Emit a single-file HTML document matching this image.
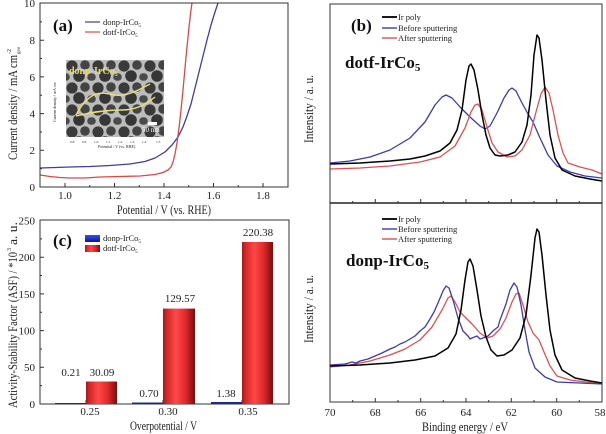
<!DOCTYPE html>
<html><head><meta charset="utf-8"><style>
html,body{margin:0;padding:0;background:#fff;}
svg{display:block;}
text{font-family:"Liberation Serif",serif;fill:#222;}
polyline{stroke-linejoin:round;stroke-linecap:round;}
</style></head><body>
<svg width="606" height="434" viewBox="0 0 606 434" xmlns="http://www.w3.org/2000/svg">
<defs>
<linearGradient id="bar" x1="0" x2="1" y1="0" y2="0">
<stop offset="0" stop-color="#a81818"/>
<stop offset="0.12" stop-color="#d42828"/>
<stop offset="0.4" stop-color="#ff4848"/>
<stop offset="0.7" stop-color="#e02a2a"/>
<stop offset="1" stop-color="#7a0c0c"/>
</linearGradient>
<linearGradient id="bbar" x1="0" x2="0" y1="0" y2="1">
<stop offset="0" stop-color="#3050ff"/><stop offset="1" stop-color="#101880"/>
</linearGradient>
<pattern id="tem" x="66" y="60" width="26" height="22" patternUnits="userSpaceOnUse">
<rect width="26" height="22" fill="#bcbcbc"/>
<circle cx="6" cy="6" r="5.6" fill="#3a3a3a"/>
<circle cx="19" cy="5" r="4.8" fill="#444"/>
<circle cx="13" cy="16" r="5.8" fill="#363636"/>
<circle cx="25" cy="17" r="3.8" fill="#4a4a4a"/>
<circle cx="0" cy="17" r="3.8" fill="#4a4a4a"/>
</pattern>
<clipPath id="ca"><rect x="40" y="3" width="248" height="184"/></clipPath>
<clipPath id="cb1"><rect x="330" y="4" width="272" height="199"/></clipPath>
<clipPath id="cb2"><rect x="330" y="203" width="272" height="199"/></clipPath>
</defs>

<!-- ============ Panel (a) ============ -->
<rect x="66" y="60" width="98" height="77" fill="url(#tem)"/>
<path d="M76,115 C82,104 88,97 96,94 C106,91 114,97 124,95 C134,93 142,88 150,84 M76,116 C92,112 106,110 122,110 C134,110 144,106 155,97" stroke="#e8e070" stroke-width="1.4" fill="none"/>
<text x="69" y="74" font-size="10" font-weight="bold" style="fill:#e6dc60">donp-IrCo<tspan font-size="6" dy="2">5</tspan></text>
<rect x="148" y="122" width="9" height="3" fill="#fff"/>
<text x="142" y="132" font-size="7" style="fill:#fff">50 nm</text>
<g font-size="3.5" style="fill:#777">
<text x="70" y="143">0.8</text><text x="82" y="143">0.9</text><text x="94" y="143">1.0</text><text x="106" y="143">1.1</text><text x="118" y="143">1.2</text><text x="130" y="143">1.3</text><text x="142" y="143">1.4</text><text x="156" y="143">1.5</text>
<text x="98" y="148" font-size="4">Potential / V (vs. RHE)</text>
<text transform="translate(56,122) rotate(-90)" font-size="4">Current density / mA cm</text>
</g>

<g clip-path="url(#ca)" fill="none" stroke-width="1.3">
<polyline stroke="#3c3ca8" points="40,168 55,167.5 70,167 90,166.5 110,165.5 130,164 145,161.5 155,158 165,152 172,145 178,137 183,127 187,116 191,104 195,88 199,72 203,56 207,40 211,25 215,12 218,3 219,0"/>
<polyline stroke="#e04646" points="40,175 50,176.5 60,177.5 70,178 85,178 100,177 120,176.5 140,176 155,174.5 163,172.5 168,170 171,167 173,162 175,154 177,143 179,128 181,110 183,90 185,68 187,47 189,27 191,10 192,3 192.5,0"/>
</g>
<rect x="40" y="3" width="248" height="184" fill="none" stroke="#333" stroke-width="1"/>
<g stroke="#333" stroke-width="1">
<path d="M65,187v-4M114.5,187v-4M164,187v-4M213.5,187v-4M263,187v-4M89.75,187v-2M139.25,187v-2M188.75,187v-2M238.25,187v-2"/>
<path d="M40,150.3h4M40,113.6h4M40,76.9h4M40,40.2h4M40,168.65h2M40,131.95h2M40,95.25h2M40,58.55h2M40,21.85h2"/>
</g>
<g font-size="11" text-anchor="end">
<text x="35" y="191">0</text><text x="35" y="154">2</text><text x="35" y="117.5">4</text><text x="35" y="81">6</text><text x="35" y="44">8</text><text x="35" y="7">10</text>
</g>
<g font-size="11" text-anchor="middle">
<text x="65" y="199">1.0</text><text x="114.5" y="199">1.2</text><text x="164" y="199">1.4</text><text x="213.5" y="199">1.6</text><text x="263" y="199">1.8</text>
</g>
<text x="117" y="214" font-size="12.5" textLength="94" lengthAdjust="spacingAndGlyphs">Potential / V (vs. RHE)</text>
<text transform="translate(17,160) rotate(-90)" font-size="12.5" textLength="105" lengthAdjust="spacingAndGlyphs">Current density / mA cm</text>
<text transform="translate(11,54) rotate(-90)" font-size="6">-2</text>
<text transform="translate(20,54) rotate(-90)" font-size="5">geo</text>
<text x="53" y="31" font-size="17" font-weight="bold" style="fill:#111">(a)</text>
<line x1="85" y1="22" x2="100" y2="22" stroke="#3c3ca8" stroke-width="1.2"/>
<line x1="85" y1="32" x2="100" y2="32" stroke="#e04646" stroke-width="1.2"/>
<text x="103" y="25" font-size="8.5">donp-IrCo<tspan font-size="5" dy="2">5</tspan></text>
<text x="103" y="35" font-size="8.5">dotf-IrCo<tspan font-size="5" dy="2">5</tspan></text>

<!-- ============ Panel (c) ============ -->
<rect x="40" y="220" width="249" height="184" fill="none" stroke="#333" stroke-width="1"/>
<g stroke="#333" stroke-width="1">
<path d="M40,367.3h4M40,330.6h4M40,293.9h4M40,257.2h4M40,385.65h2M40,348.95h2M40,312.25h2M40,275.55h2M40,238.85h2"/>
<path d="M86,404v-4M163,404v-4M242,404v-4"/>
</g>
<rect x="55" y="403" width="31" height="0.8" fill="#1a2890"/>
<rect x="132" y="402.5" width="31" height="1.3" fill="#1a2890"/>
<rect x="211" y="402" width="31" height="1.8" fill="#1a2890"/>
<rect x="86" y="381.5" width="31" height="22.5" fill="url(#bar)"/>
<rect x="163" y="308.6" width="32" height="95.4" fill="url(#bar)"/>
<rect x="242" y="242" width="31" height="162" fill="url(#bar)"/>
<g font-size="11" text-anchor="middle">
<text x="71" y="376">0.21</text><text x="102" y="376">30.09</text>
<text x="149" y="397">0.70</text><text x="180" y="302">129.57</text>
<text x="226" y="397">1.38</text><text x="258" y="236">220.38</text>
</g>
<g font-size="11" text-anchor="end">
<text x="35" y="408">0</text><text x="35" y="371">50</text><text x="35" y="334.5">100</text><text x="35" y="298">150</text><text x="35" y="261">200</text><text x="35" y="224.5">250</text>
</g>
<g font-size="11" text-anchor="middle">
<text x="90" y="415">0.25</text><text x="168" y="415">0.30</text><text x="248" y="415">0.35</text>
</g>
<text x="130" y="430" font-size="12.5" textLength="67" lengthAdjust="spacingAndGlyphs">Overpotential / V</text>
<text transform="translate(17,408) rotate(-90)" font-size="12.5" textLength="156" lengthAdjust="spacingAndGlyphs">Activity-Stability Factor (ASF) / *10</text>
<text transform="translate(11,251) rotate(-90)" font-size="6">3</text>
<text transform="translate(17,245) rotate(-90)" font-size="12.5" textLength="23" lengthAdjust="spacingAndGlyphs">a. u.</text>
<text x="53" y="246" font-size="17" font-weight="bold" style="fill:#111">(c)</text>
<rect x="85" y="235" width="15" height="7" fill="url(#bbar)"/>
<rect x="85" y="245" width="15" height="7" fill="url(#bar)"/>
<text x="103" y="241" font-size="8.5">donp-IrCo<tspan font-size="5" dy="2">5</tspan></text>
<text x="103" y="251" font-size="8.5">dotf-IrCo<tspan font-size="5" dy="2">5</tspan></text>

<!-- ============ Panel (b) top ============ -->
<g clip-path="url(#cb1)" fill="none" stroke-width="1.3">
<polyline stroke="#3c3cb0" points="330,163 350,161 370,157 390,150 410,138 425,122 435,105 442,97 446,95 452,98 460,107 470,117 480,126 485,129 490,126 497,113 504,98 509,90 512,88 516,91 522,103 528,114 533,122 540,138 548,155 557,166 570,172 585,176 602,178"/>
<polyline stroke="#e05050" points="330,169 360,168 390,166 420,162 440,157 455,146 465,128 471,112 475,105 478,104 482,110 487,127 492,143 498,152 507,157 515,156 522,150 530,135 536,112 541,94 545,87 549,93 553,110 558,135 563,153 568,163 580,167 592,170 602,174"/>
<polyline stroke="#000" stroke-width="1.5" points="330,164 360,163 390,161 410,159 425,156 440,151 450,143 457,130 462,110 466,80 469,66 471,64 474,70 478,90 482,115 486,135 490,148 495,155 500,156 508,155 515,152 522,142 527,125 531,95 534,55 537,35 539,38 542,60 546,100 550,135 555,158 562,170 575,176 590,179 602,181"/>
</g>
<!-- ============ Panel (b) bottom ============ -->
<g clip-path="url(#cb2)" fill="none" stroke-width="1.3">
<polyline stroke="#e05050" points="330,367 350,365 370,361 390,355 405,349 420,340 432,327 442,310 448,298 451,296 455,302 460,312 466,318 472,324 480,333 487,338 493,336 500,329 506,318 512,302 516,294 519,293 523,305 528,322 533,333 539,340 544,352 550,366 557,376 570,380 602,384"/>
<polyline stroke="#3c3cb0" points="330,365 345,364 352,362 356,363 360,361 368,359 375,356 382,353 390,349 395,347 400,344 405,342 410,339 415,336 420,331 425,327 430,319 434,312 438,303 443,291 446,286 449,288 453,300 458,318 463,331 468,336 470,339 472,338 477,336 480,339 483,338 488,336 494,330 498,327 500,320 506,304 510,290 514,283 517,287 521,305 525,330 529,352 535,368 545,377 557,382 602,384"/>
<polyline stroke="#000" stroke-width="1.5" points="330,366 360,365 390,363 415,360 435,356 448,348 456,334 461,310 465,280 468,262 470,259 473,266 477,290 481,316 486,337 491,350 497,356 504,355 512,350 520,338 526,315 531,275 535,238 537,229 539,232 542,255 546,295 550,330 555,355 562,370 575,378 590,381 602,383"/>
</g>
<rect x="330" y="4" width="272" height="398" fill="none" stroke="#333" stroke-width="1"/>
<line x1="330" y1="203" x2="602" y2="203" stroke="#222" stroke-width="1.5"/>
<g stroke="#333" stroke-width="1">
<path d="M375.3,203v-4M420.7,203v-4M466,203v-4M511.3,203v-4M556.7,203v-4M352.7,203v-2M398,203v-2M443.3,203v-2M488.7,203v-2M534,203v-2M579.3,203v-2"/>
<path d="M375.3,402v-4M420.7,402v-4M466,402v-4M511.3,402v-4M556.7,402v-4M352.7,402v-2M398,402v-2M443.3,402v-2M488.7,402v-2M534,402v-2M579.3,402v-2"/>
</g>
<g font-size="11" text-anchor="middle">
<text x="330" y="416">70</text><text x="375.3" y="416">68</text><text x="420.7" y="416">66</text><text x="466" y="416">64</text><text x="511.3" y="416">62</text><text x="556.7" y="416">60</text><text x="600" y="416">58</text>
</g>
<text x="422" y="431" font-size="12.5" textLength="86" lengthAdjust="spacingAndGlyphs">Binding energy / eV</text>
<text transform="translate(313,143) rotate(-90)" font-size="12.5" textLength="68" lengthAdjust="spacingAndGlyphs">Intensity / a. u.</text>
<text transform="translate(313,343) rotate(-90)" font-size="12.5" textLength="68" lengthAdjust="spacingAndGlyphs">Intensity / a. u.</text>
<text x="351" y="31" font-size="17" font-weight="bold" style="fill:#111">(b)</text>
<text x="345" y="68" font-size="17" font-weight="bold" style="fill:#111">dotf-IrCo<tspan font-size="11" dy="3">5</tspan></text>
<text x="346" y="266" font-size="17" font-weight="bold" style="fill:#111">donp-IrCo<tspan font-size="11" dy="3">5</tspan></text>
<g stroke-width="1.4">
<line x1="382" y1="17" x2="397" y2="17" stroke="#000" stroke-width="1.8"/>
<line x1="382" y1="28" x2="397" y2="28" stroke="#3c3cb0"/>
<line x1="382" y1="38" x2="397" y2="38" stroke="#e05050"/>
<line x1="382" y1="219" x2="397" y2="219" stroke="#000" stroke-width="1.8"/>
<line x1="382" y1="229" x2="397" y2="229" stroke="#3c3cb0"/>
<line x1="382" y1="239" x2="397" y2="239" stroke="#e05050"/>
</g>
<g font-size="8.5">
<text x="398" y="20">Ir poly</text><text x="398" y="31">Before sputtering</text><text x="398" y="41">After sputtering</text>
<text x="398" y="222">Ir poly</text><text x="398" y="232">Before sputtering</text><text x="398" y="242">After sputtering</text>
</g>
</svg>
</body></html>
